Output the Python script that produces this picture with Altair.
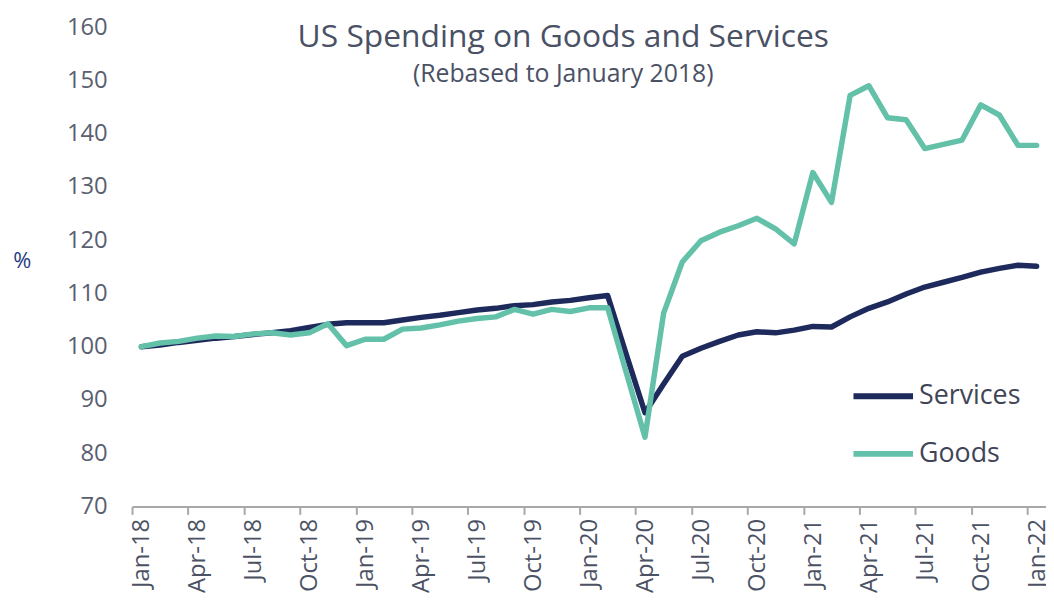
import altair as alt
import pandas as pd

# Month categories (Jan-18 .. Jan-22)
months = list(pd.date_range("2018-01-01", periods=49, freq="MS").strftime("%b-%y"))

services = [100.0, 100.3, 100.8, 101.2, 101.6, 101.9, 102.3, 102.6, 103.0, 103.6,
            104.2, 104.5, 104.5, 104.5, 105.0, 105.5, 105.9, 106.4, 106.9, 107.2,
            107.7, 107.9, 108.4, 108.7, 109.2, 109.6, 98.5, 87.6, 93.0, 98.2,
            99.7, 101.0, 102.2, 102.8, 102.6, 103.1, 103.8, 103.7, 105.6, 107.2,
            108.4, 109.9, 111.2, 112.1, 113.0, 114.0, 114.7, 115.3, 115.1]

goods = [100.0, 100.7, 101.0, 101.6, 102.0, 101.9, 102.4, 102.6, 102.2, 102.6,
         104.3, 100.2, 101.4, 101.4, 103.3, 103.5, 104.1, 104.8, 105.3, 105.6,
         107.0, 106.1, 107.0, 106.6, 107.3, 107.3, 95.1, 83.0, 106.3, 115.9,
         119.9, 121.5, 122.7, 124.1, 122.1, 119.3, 132.7, 127.1, 147.2, 149.0,
         143.0, 142.6, 137.2, 138.0, 138.8, 145.4, 143.5, 137.8, 137.8]

series_names = ["Services", "Goods"]
series_colors = ["#1d2a5b", "#63c0a9"]
y_ticks = list(range(70, 161, 10))
x_tick_idx = list(range(0, 49, 3))

rows = []
for name, vals in zip(series_names, [services, goods]):
    for i, v in enumerate(vals):
        rows.append({"series": name, "month": months[i], "pos": i + 0.5, "value": v})
df = pd.DataFrame(rows)

W, H = 921, 483
FONT = "Open Sans"
label_js = "[" + ",".join("'%s'" % m for m in months) + "]"

chart = alt.Chart(df).mark_line(
    strokeWidth=5.5, strokeCap="round", strokeJoin="round"
).encode(
    x=alt.X(
        "pos:Q",
        scale=alt.Scale(domain=[0, 49], nice=False, zero=False),
        axis=alt.Axis(
            values=x_tick_idx,
            labelExpr=label_js + "[datum.value]",
            title=None, grid=False,
            labelAngle=270, labelAlign="right", labelBaseline="middle",
            labelOffset=10, labelPadding=4,
            tickSize=8, tickWidth=2, tickColor="#a8a8a8",
            domainColor="#a8a8a8", domainWidth=2,
            labelFont=FONT, labelFontSize=24, labelColor="#4b5264",
            labelFlush=False, labelOverlap=False,
        ),
    ),
    y=alt.Y(
        "value:Q",
        scale=alt.Scale(domain=[70, 160], nice=False, zero=False),
        axis=alt.Axis(
            values=y_ticks, title="%", titleAngle=0, titleX=-111, titleY=235,
            titleAlign="center", titleBaseline="middle", titleFont=FONT,
            titleFontSize=22, titleFontWeight="normal", titleColor="#1f3a85",
            domain=False, ticks=False, grid=False, labelPadding=25,
            labelFont=FONT, labelFontSize=24, labelColor="#5a6070",
        ),
    ),
    color=alt.Color(
        "series:N",
        scale=alt.Scale(domain=series_names, range=series_colors),
        legend=alt.Legend(
            title=None, orient="none", legendX=724, legendY=339,
            symbolType="stroke", symbolSize=3600, symbolStrokeWidth=6,
            labelFont=FONT, labelFontSize=27, labelColor="#3f4557",
            labelOffset=3, rowPadding=12, padding=0,
        ),
    ),
).properties(
    width=W, height=H,
    title=alt.TitleParams(
        text="US Spending on Goods and Services",
        subtitle="(Rebased to January 2018)",
        anchor="middle", dx=-26, offset=-73,
        font=FONT, fontSize=32, fontWeight="normal", color="#4a5165",
        subtitleFont=FONT, subtitleFontSize=25, subtitleColor="#4a5165",
        subtitlePadding=8,
    ),
    autosize=alt.AutoSizeParams(type="none"),
    padding={"left": 125, "top": 17, "right": 0, "bottom": 95},
).configure_view(stroke=None)

chart.save("out.html", embed_options={"renderer": "svg", "actions": False})
